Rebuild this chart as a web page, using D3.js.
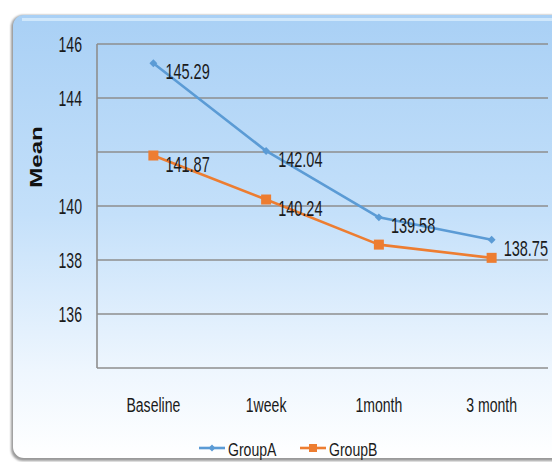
<!DOCTYPE html>
<html>
<head>
<meta charset="utf-8">
<script src="https://cdn.jsdelivr.net/npm/d3@7"></script>
<style>
  html, body { margin: 0; padding: 0; background: #ffffff; }
  svg { display: block; }
  .num { font-family: "Liberation Sans", Arial, sans-serif; fill: #1a1a1a; }
</style>
</head>
<body>
<svg id="chart" width="552" height="462"></svg>
<script>
// Mean values over the follow-up timepoints
const categories = ["Baseline", "1week", "1month", "3 month"];
const groupA = [145.29, 142.04, 139.58, 138.75];
const groupB = [141.87, 140.24, 138.57, 138.08];
const seriesNames = ["GroupA", "GroupB"];
const yTicks = [136, 138, 140, 142, 144, 146];
const yTickLabels = ["136", "138", "140", "", "144", "146"];
// which points carry a value label
const labelA = [true, true, true, true];
const labelB = [true, true, false, false];

const colors = { GroupA: "#5b9bd5", GroupB: "#ed7d31" };

const svg = d3.select("#chart");
const plot = { left: 97, right: 548, top: 44, bottom: 368 };

// narrow text: horizontally compressed glyphs
function narrowText(parent, tx, ty, str, size, sx, anchor) {
  return parent.append("text").attr("class", "num")
    .attr("transform", `translate(${tx},${ty}) scale(${sx},1)`)
    .attr("text-anchor", anchor || "start")
    .attr("font-size", size)
    .text(str);
}

// Background panel with a soft blue-to-white gradient
const defs = svg.append("defs");
const grad = defs.append("linearGradient").attr("id", "bg").attr("x1", 0).attr("y1", 0).attr("x2", 0).attr("y2", 1);
grad.append("stop").attr("offset", "0%").attr("stop-color", "#a9d0f5");
grad.append("stop").attr("offset", "45%").attr("stop-color", "#c4e0fa");
grad.append("stop").attr("offset", "80%").attr("stop-color", "#eef6fe");
grad.append("stop").attr("offset", "100%").attr("stop-color", "#ffffff");

const shadow = defs.append("filter").attr("id", "sh").attr("x", "-5%").attr("y", "-5%").attr("width", "110%").attr("height", "110%");
shadow.append("feGaussianBlur").attr("stdDeviation", 1.2);

svg.append("rect").attr("x", 11).attr("y", 15).attr("width", 620).attr("height", 446)
  .attr("rx", 12).attr("fill", "#9a9a9a").attr("filter", "url(#sh)");
svg.append("rect").attr("x", 13).attr("y", 15).attr("width", 620).attr("height", 443)
  .attr("rx", 11).attr("fill", "url(#bg)");
// top bevel highlight
svg.append("rect").attr("x", 22).attr("y", 18).attr("width", 540).attr("height", 3)
  .attr("fill", "#d8ecfc").attr("opacity", 0.8);

const x = d3.scaleBand().domain(categories).range([plot.left, plot.right]);
const y = d3.scaleLinear().domain([134, 146]).range([plot.bottom, plot.top]);

// Horizontal gridlines
svg.append("g").selectAll("line").data(yTicks).join("line")
  .attr("x1", plot.left).attr("x2", plot.right)
  .attr("y1", d => y(d)).attr("y2", d => y(d))
  .attr("stroke", "#8e8e8e").attr("stroke-width", 1.6);

// Axis frame: left and bottom
svg.append("line").attr("x1", plot.left).attr("x2", plot.left).attr("y1", plot.top).attr("y2", plot.bottom)
  .attr("stroke", "#8e8e8e").attr("stroke-width", 1.6);
svg.append("line").attr("x1", plot.left).attr("x2", plot.right).attr("y1", plot.bottom).attr("y2", plot.bottom)
  .attr("stroke", "#8e8e8e").attr("stroke-width", 1.6);

// Y tick labels
const yl = svg.append("g");
yTicks.forEach((t, i) => narrowText(yl, 82, y(t) + 8, yTickLabels[i], 22, 0.64, "end"));

// X category labels
const xl = svg.append("g");
categories.forEach(c => narrowText(xl, x(c) + x.bandwidth() / 2, 412, c, 21, 0.67, "middle"));

// Y axis title
svg.append("text")
  .attr("transform", "translate(42,157) rotate(-90) scale(1.42,1)")
  .attr("text-anchor", "middle")
  .attr("font-family", "Liberation Sans, Arial, sans-serif")
  .attr("font-weight", "bold").attr("font-size", 17).attr("fill", "#111")
  .text("Mean");

const line = d3.line().x((d, i) => x(categories[i]) + x.bandwidth() / 2).y(d => y(d));

function drawSeries(values, name, marker, labels) {
  const g = svg.append("g");
  g.append("path").datum(values).attr("d", line)
    .attr("fill", "none").attr("stroke", colors[name]).attr("stroke-width", 2.6)
    .attr("stroke-linejoin", "round");
  const cx = (d, i) => x(categories[i]) + x.bandwidth() / 2;
  if (marker === "diamond") {
    g.selectAll("path.m").data(values).join("path").attr("class", "m")
      .attr("d", d3.symbol(d3.symbolDiamond2, 40)())
      .attr("transform", (d, i) => `translate(${cx(d, i)},${y(d)})`)
      .attr("fill", colors[name]);
  } else {
    g.selectAll("rect.m").data(values).join("rect").attr("class", "m")
      .attr("x", (d, i) => cx(d, i) - 5).attr("y", d => y(d) - 5)
      .attr("width", 10).attr("height", 10).attr("fill", colors[name]);
  }
  values.forEach((v, i) => {
    if (labels[i]) narrowText(g, cx(v, i) + 12, y(v) + 16, v.toFixed(2), 22, 0.66);
  });
}

drawSeries(groupA, "GroupA", "diamond", labelA);
drawSeries(groupB, "GroupB", "square", labelB);

// Legend
const legend = [
  { name: "GroupA", x: 199, marker: "diamond" },
  { name: "GroupB", x: 300, marker: "square" }
];
const lg = svg.append("g");
legend.forEach(l => {
  lg.append("line").attr("x1", l.x).attr("x2", l.x + 26).attr("y1", 448).attr("y2", 448)
    .attr("stroke", colors[l.name]).attr("stroke-width", 2.6);
  if (l.marker === "diamond") {
    lg.append("path").attr("d", d3.symbol(d3.symbolDiamond2, 30)())
      .attr("transform", `translate(${l.x + 13},448)`).attr("fill", colors[l.name]);
  } else {
    lg.append("rect").attr("x", l.x + 9).attr("y", 444).attr("width", 8).attr("height", 8)
      .attr("fill", colors[l.name]);
  }
  narrowText(lg, l.x + 29, 456, l.name, 19, 0.74);
});
</script>
</body>
</html>
